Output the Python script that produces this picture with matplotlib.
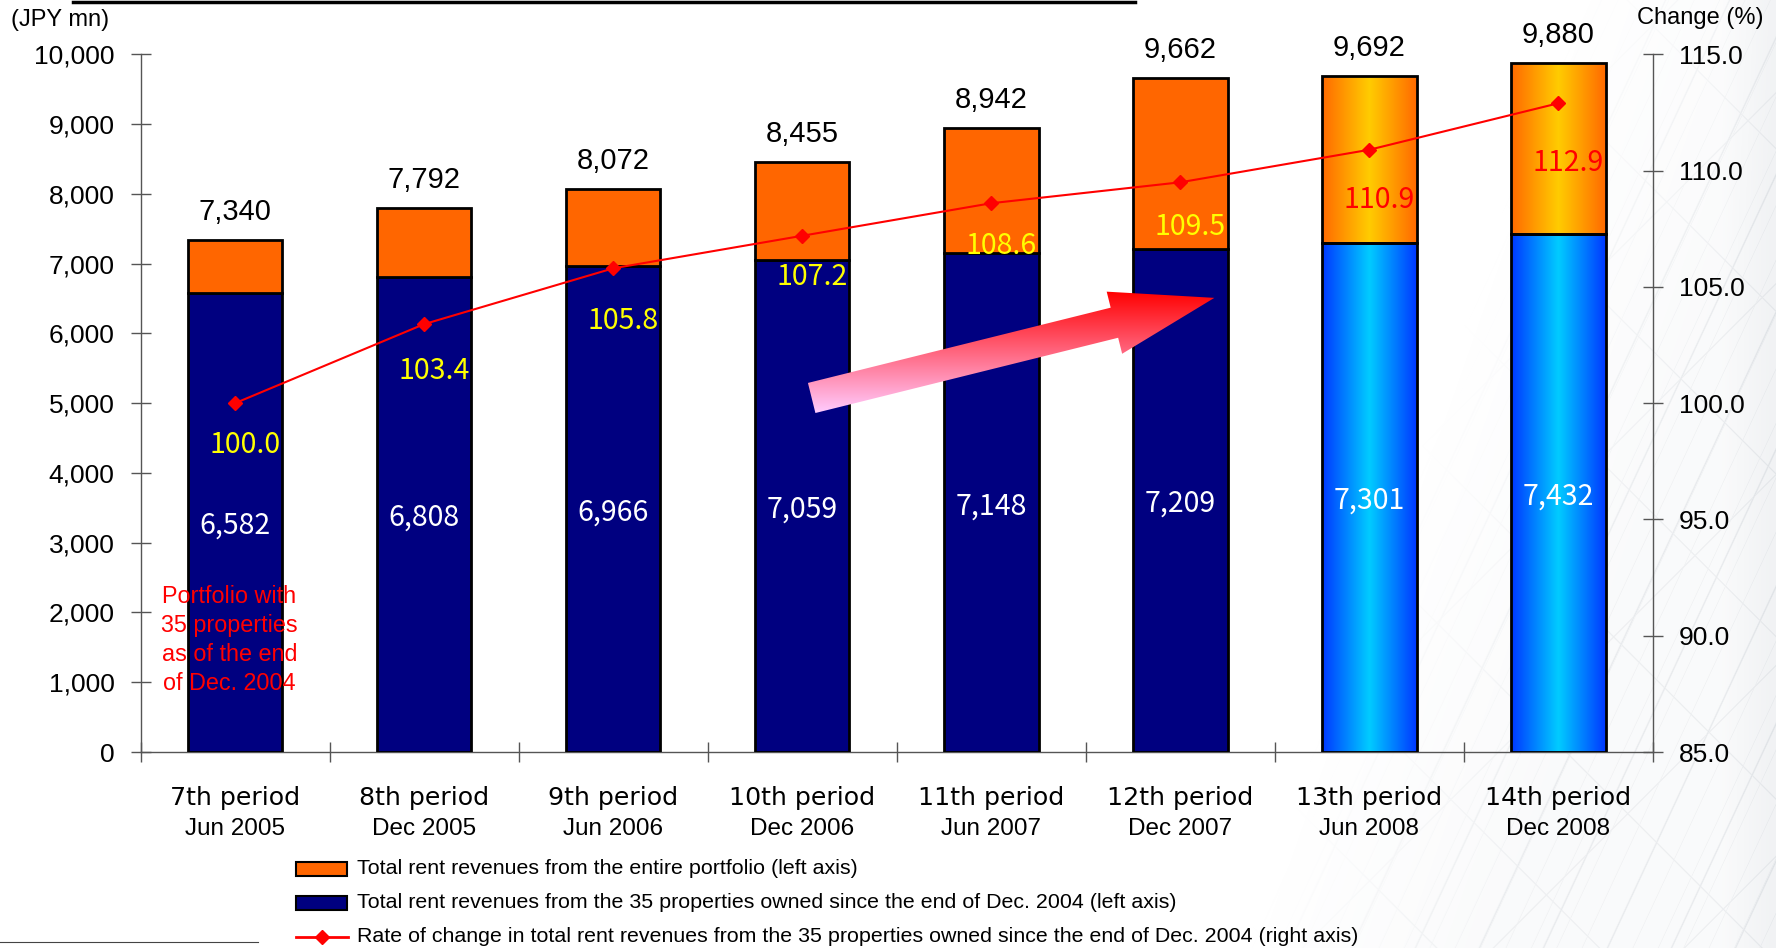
import numpy as np
import matplotlib
matplotlib.use("Agg")
import matplotlib.pyplot as plt
from matplotlib.patches import Rectangle, Polygon
from matplotlib.lines import Line2D
from matplotlib.colors import to_rgb

# ---- data -------------------------------------------------------------
periods = ["7th period", "8th period", "9th period", "10th period",
           "11th period", "12th period", "13th period", "14th period"]
period_dates = ["Jun 2005", "Dec 2005", "Jun 2006", "Dec 2006",
                "Jun 2007", "Dec 2007", "Jun 2008", "Dec 2008"]
total_revenue = [7340, 7792, 8072, 8455, 8942, 9662, 9692, 9880]
core_revenue = [6582, 6808, 6966, 7059, 7148, 7209, 7301, 7432]
change_rate = [100.0, 103.4, 105.8, 107.2, 108.6, 109.5, 110.9, 112.9]

legend_labels = [
    "Total rent revenues from the entire portfolio (left axis)",
    "Total rent revenues from the 35 properties owned since the end of Dec. 2004 (left axis)",
    "Rate of change in total rent revenues from the 35 properties owned since the end of Dec. 2004 (right axis)",
]
note_text = "Portfolio with\n35 properties\nas of the end\nof Dec. 2004"

# ---- styling ------------------------------------------------------------
gradient_fill = [False] * 6 + [True] * 2          # last two periods shaded
rate_label_colors = ["#FFFF00"] * 6 + ["#FF0000"] * 2
rate_label_drop_px = [38, 43, 49, 38, 39, 41, 47, 56]

NAVY = "#000080"
ORANGE = "#FF6600"
RED = "#FF0000"
AXIS_GREY = "#555555"
SANS = "Liberation Sans"
GOTHIC = "Noto Sans CJK JP"

W, H, DPI = 1776, 948, 100
PT = 72.0 / DPI  # points per pixel


def fx(px):
    return px / W


def fy(py):
    return 1.0 - py / H


fig = plt.figure(figsize=(W / DPI, H / DPI), dpi=DPI, facecolor="white")

# ---- faint architectural backdrop on the right ---------------------------
yy, xx = np.mgrid[0:H, 0:W].astype(float)


def stripes(angle, spacing, width, phase=0.0):
    a = np.deg2rad(angle)
    d = xx * np.cos(a) + yy * np.sin(a) + phase
    m = np.abs((d / spacing + 0.5) % 1.0 - 0.5) * spacing
    return np.clip(1.0 - m / width, 0.0, 1.0)


edge = 1570.0 - 0.35 * yy
fade = np.clip((xx - edge) / 260.0, 0.0, 1.0)
pattern = np.maximum.reduce([
    stripes(25, 58, 1.3),
    stripes(25, 23, 0.8, 7.0) * 0.5,
    stripes(-45, 115, 1.1) * 0.8,
    stripes(45, 135, 1.1, 30.0) * 0.8,
])
alpha = fade * (0.05 + 0.18 * pattern)
alpha += np.clip((xx - 1720.0) / 50.0, 0, 1) * 0.08
tex = np.zeros((H, W, 4))
tex[..., 0], tex[..., 1], tex[..., 2] = 0.58, 0.62, 0.67
tex[..., 3] = np.clip(alpha, 0, 1)
bg = fig.add_axes([0, 0, 1, 1], zorder=-5)
bg.imshow(tex, aspect="auto", interpolation="bilinear")
bg.axis("off")

# ---- main axes ----------------------------------------------------------
ax = fig.add_axes([fx(140.5), fy(752), fx(1653) - fx(140.5), fy(54.4) - fy(752)])
ax.set_facecolor("none")
x = np.arange(len(periods))
XLIM, YLIM = (-0.5, len(periods) - 0.5), (0, 10000)
ax.set_xlim(*XLIM)
ax.set_ylim(*YLIM)

upper = [t - c for t, c in zip(total_revenue, core_revenue)]
bar_w = 0.5
ax.bar(x, core_revenue, width=bar_w,
       color=["none" if g else NAVY for g in gradient_fill],
       edgecolor="black", linewidth=2, zorder=3)
ax.bar(x, upper, bottom=core_revenue, width=bar_w,
       color=["none" if g else ORANGE for g in gradient_fill],
       edgecolor="black", linewidth=2, zorder=3)


def h_gradient(edge_col, mid_col, n=128):
    u = np.linspace(0, 1, n)
    t = np.abs(2 * u - 1)[:, None]
    e, m = np.array(to_rgb(edge_col)), np.array(to_rgb(mid_col))
    return (m * (1 - t) + e * t)[None, :, :]


blue_grad = h_gradient("#0038FF", "#00CCFF")
orange_grad = h_gradient("#FF6A00", "#FFCC00")
for i, g in enumerate(gradient_fill):
    if not g:
        continue
    x0, x1 = i - bar_w / 2, i + bar_w / 2
    ax.imshow(blue_grad, extent=(x0, x1, 0, core_revenue[i]), aspect="auto",
              interpolation="bilinear", zorder=2)
    ax.imshow(orange_grad, extent=(x0, x1, core_revenue[i], total_revenue[i]),
              aspect="auto", interpolation="bilinear", zorder=2)
ax.set_xlim(*XLIM)
ax.set_ylim(*YLIM)

# axes styling
for s in ("top", "right"):
    ax.spines[s].set_visible(False)
for s in ("left", "bottom"):
    ax.spines[s].set_color(AXIS_GREY)
    ax.spines[s].set_linewidth(1)
yt = np.arange(0, 10001, 1000)
ax.set_yticks(yt)
ax.set_yticklabels([f"{v:,}" for v in yt], fontfamily=SANS)
ax.set_xticks(np.arange(-0.5, len(periods), 1.0))
ax.set_xticklabels([])
ax.tick_params(axis="y", direction="inout", length=20 * PT, width=1,
               color=AXIS_GREY, labelsize=19, pad=16 * PT)
ax.tick_params(axis="x", direction="inout", length=20 * PT, width=1,
               color=AXIS_GREY)

# category labels
for i in x:
    ax.annotate(periods[i], (i, 0), xytext=(0, -53 * PT), textcoords="offset points",
                ha="center", va="baseline", fontsize=18.2, family="DejaVu Sans",
                annotation_clip=False)
    ax.annotate(period_dates[i], (i, 0), xytext=(0, -83 * PT), textcoords="offset points",
                ha="center", va="baseline", fontsize=17.5, family=SANS,
                annotation_clip=False)

# value labels on bars
for i in x:
    ax.annotate(f"{total_revenue[i]:,}", (i, total_revenue[i]),
                xytext=(0, 20 * PT), textcoords="offset points",
                ha="center", va="baseline", fontsize=21, family=SANS, zorder=6)
    ax.annotate(f"{core_revenue[i]:,}", (i, core_revenue[i] / 2),
                ha="center", va="center_baseline", fontsize=20.5,
                family=GOTHIC, color="white", zorder=6)

ax.text(-0.03, 1600, note_text, ha="center", va="center", color=RED,
        fontsize=16.8, family=SANS, linespacing=1.33, zorder=6)

# ---- gradient arrow -----------------------------------------------------
arrow_tail = (3.05, 5075)
arrow_tip = (5.18, 6510)
T = ax.transData.transform(arrow_tail)
P = ax.transData.transform(arrow_tip)
u = (P - T) / np.hypot(*(P - T))
n = np.array([-u[1], u[0]])
B = P - u * 103
disp = np.array([T + n * 15.5, B + n * 15.5, B + n * 32, P,
                 B - n * 32, B - n * 15.5, T - n * 15.5])
verts = ax.transData.inverted().transform(disp)
poly = Polygon(verts, closed=True, facecolor="none", edgecolor="none", zorder=4)
ax.add_patch(poly)
top_c, bot_c = np.array(to_rgb("#FF0000")), np.array(to_rgb("#FFCCFF"))
tt = np.linspace(0, 1, 256)[:, None]
vgrad = (top_c * (1 - tt) + bot_c * tt)[:, None, :]
ymin, ymax = verts[:, 1].min(), verts[:, 1].max()
xmin, xmax = verts[:, 0].min(), verts[:, 0].max()
im = ax.imshow(vgrad, extent=(xmin, xmax, ymin, ymax), aspect="auto",
               interpolation="bilinear", zorder=4)
im.set_clip_path(poly)
ax.set_xlim(*XLIM)
ax.set_ylim(*YLIM)

# ---- right axis: rate of change -----------------------------------------
ax2 = ax.twinx()
ax2.set_ylim(85, 115)
for s in ("top", "left", "bottom"):
    ax2.spines[s].set_visible(False)
ax2.spines["right"].set_color(AXIS_GREY)
ax2.spines["right"].set_linewidth(1)
rt = np.arange(85, 115.1, 5)
ax2.set_yticks(rt)
ax2.set_yticklabels([f"{v:.1f}" for v in rt], fontfamily=SANS)
ax2.tick_params(axis="y", direction="inout", length=20 * PT, width=1,
                color=AXIS_GREY, labelsize=19, pad=16 * PT)
ax2.plot(x, change_rate, color=RED, lw=1.5, marker="D", ms=7.5, zorder=5)
for i in x:
    ax2.annotate(f"{change_rate[i]:.1f}", (i, change_rate[i]),
                 xytext=(10 * PT, -rate_label_drop_px[i] * PT), textcoords="offset points",
                 ha="center", va="center_baseline", fontsize=20.5, family=GOTHIC,
                 color=rate_label_colors[i], zorder=6)

# ---- axis titles --------------------------------------------------------
fig.text(fx(11), fy(20), "(JPY mn)", ha="left", va="center", fontsize=17, family=SANS)
fig.text(fx(1637), fy(18), "Change (%)", ha="left", va="center", fontsize=17, family=SANS)

# ---- legend -------------------------------------------------------------
rows = [869, 903, 937]
for face, row in zip([ORANGE, NAVY], rows[:2]):
    fig.add_artist(Rectangle((fx(296), fy(row + 7)), 51 / W, 14 / H,
                             facecolor=face, edgecolor="black", lw=1.5,
                             transform=fig.transFigure))
fig.add_artist(Line2D([fx(296), fx(348)], [fy(rows[2])] * 2, color=RED, lw=2,
                      transform=fig.transFigure))
fig.add_artist(Line2D([fx(322)], [fy(rows[2])], marker="D", ms=7.5, color=RED,
                      transform=fig.transFigure))
for lab, row in zip(legend_labels, rows):
    fig.text(fx(357), fy(row), lab, ha="left", va="center", fontsize=15.4, family=SANS)

# ---- page rules -----------------------------------------------------------
fig.add_artist(Line2D([fx(73), fx(1135)], [fy(1.7)] * 2, color="black", lw=2.5,
                      transform=fig.transFigure))
fig.add_artist(Line2D([0, fx(258)], [fy(942)] * 2, color="#444444", lw=0.8,
                      transform=fig.transFigure))

fig.savefig("out.png", dpi=DPI, facecolor="white")
